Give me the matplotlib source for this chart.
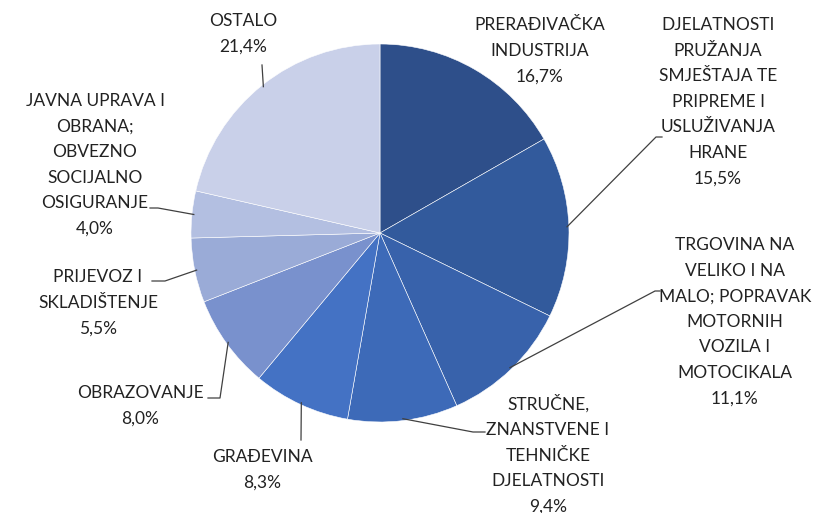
import matplotlib
matplotlib.use("Agg")
import matplotlib.pyplot as plt
import numpy as np

labels = ["PRERAĐIVAČKA\nINDUSTRIJA",
          "DJELATNOSTI\nPRUŽANJA\nSMJEŠTAJA TE\nPRIPREME I\nUSLUŽIVANJA\nHRANE",
          "TRGOVINA NA\nVELIKO I NA\nMALO; POPRAVAK\nMOTORNIH\nVOZILA I\nMOTOCIKALA",
          "STRUČNE,\nZNANSTVENE I\nTEHNIČKE\nDJELATNOSTI",
          "GRAĐEVINA",
          "OBRAZOVANJE",
          "PRIJEVOZ I\nSKLADIŠTENJE",
          "JAVNA UPRAVA I\nOBRANA;\nOBVEZNO\nSOCIJALNO\nOSIGURANJE",
          "OSTALO"]
values = [16.7, 15.5, 11.1, 9.4, 8.3, 8.0, 5.5, 4.0, 21.4]
colors = ["#2E4F8A", "#325A9C", "#3862AB", "#3D6AB8", "#4472C4",
          "#7991CD", "#9AABD7", "#B3BFE1", "#C9D0E9"]

W, H = 816, 513
fig = plt.figure(figsize=(W / 100, H / 100), dpi=100)
ax = fig.add_axes([0, 0, 1, 1])

def py(y):
    return H - y

cx, cy, R = 380, 233, 189
wedges, _ = ax.pie(values, colors=colors, startangle=90, counterclock=False,
                   center=(cx, py(cy)), radius=R, frame=True,
                   wedgeprops=dict(edgecolor="white", linewidth=0.4))
ax.set_xlim(0, W)
ax.set_ylim(0, H)
ax.set_aspect("equal")
ax.axis("off")

font = dict(family=["Lato", "DejaVu Sans"], fontsize=12.5, color="#222222")

# label layout: (center x, first line center y in px), leader path after the wedge anchor
layout = [
    (540, 25, None),
    (718, 25, [(656, 137), (662, 137)]),
    (735, 245, [(655, 291), (660, 291)]),
    (548, 402, [(473, 432), (485, 432)]),
    (262, 457, [(301, 440)]),
    (140, 393, [(220, 398), (208, 398)]),
    (98, 277, [(165, 281), (152, 281)]),
    (95, 101, [(158, 208), (150, 208)]),
    (243, 21, [(262, 65)]),
]

for w, lab, val, (tx, ty, path) in zip(wedges, labels, values, layout):
    text = lab + "\n" + f"{val:.1f}".replace(".", ",") + "%"
    ax.text(tx, py(ty - 7.5), text, ha="center", va="top",
            linespacing=1.73, **font)
    if path:
        ang = np.deg2rad((w.theta1 + w.theta2) / 2)
        ax_ = cx + R * 0.99 * np.cos(ang)
        ay_ = cy - R * 0.99 * np.sin(ang)
        xs = [ax_] + [p[0] for p in path]
        ys = [py(ay_)] + [py(p[1]) for p in path]
        ax.plot(xs, ys, color="#404040", lw=0.9)

fig.savefig("out.png", dpi=100)
